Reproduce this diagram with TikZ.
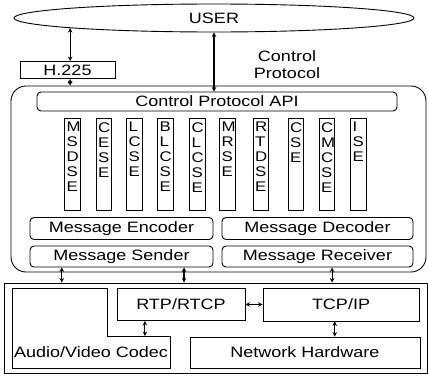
\documentclass[tikz,border=0pt]{standalone}
\usepackage{fontspec}
\setmainfont[FakeStretch=1.2]{Liberation Sans}
\usetikzlibrary{shapes.geometric,arrows.meta,calc}
\begin{document}
\begin{tikzpicture}[x=1pt,y=-1pt,
  every node/.style={font=\fontsize{15}{17}\selectfont},
  box/.style={draw, line width=0.9pt, inner sep=0pt},
  rbox/.style={box, rounded corners=4pt},
  colbox/.style={box, minimum width=15.5pt, minimum height=92pt},
  coltext/.style={anchor=north west, align=left, inner sep=0pt, font=\fontsize{14}{15}\selectfont},
  lnk/.style={line width=1.1pt, {Stealth[length=4.5pt,width=4.5pt]}-{Stealth[length=4.5pt,width=4.5pt]}},
]
\useasboundingbox (0,0) rectangle (428,375);

\node[box, ellipse, minimum width=400pt, minimum height=28pt] (user) at (214,18) {USER};
\node[box, minimum width=95pt, minimum height=17pt] (h225) at (67.5,70) {H.225};
\node[align=center, inner sep=0pt] (cptext) at (287,64.5) {Control\\Protocol};

\node[box, rounded corners=15pt, minimum width=415pt, minimum height=186pt] (big) at (218.5,179) {};
\node[rbox, minimum width=360pt, minimum height=19pt] (api) at (217,101.5) {Control Protocol API};

\foreach \cx/\txt [count=\i] in {72.5/{M\\S\\D\\S\\E}, 104/{C\\E\\S\\E}, 134.5/{L\\C\\S\\E},
  165.5/{B\\L\\C\\S\\E}, 197.5/{C\\L\\C\\S\\E}, 227.5/{M\\R\\S\\E}, 261/{R\\T\\D\\S\\E},
  296/{C\\S\\E}, 327/{C\\M\\C\\S\\E}, 358.5/{I\\S\\E}} {
  \node[colbox] (col\i) at (\cx,164.5) {};
  \node[coltext] (colt\i) at ($(col\i.north west)+(2,4)$) {\txt};
}

\node[rbox, minimum width=183pt, minimum height=22pt] (enc) at (121.5,228.5) {Message Encoder};
\node[rbox, minimum width=191pt, minimum height=22pt] (dec) at (317.5,228.5) {Message Decoder};
\node[rbox, minimum width=183pt, minimum height=21pt] (sender) at (121.5,256.5) {Message Sender};
\node[rbox, minimum width=191pt, minimum height=21pt] (receiver) at (317.5,256.5) {Message Receiver};

\node[box, minimum width=423pt, minimum height=90pt] (lower) at (215.5,328) {};
\draw[line width=0.9pt] (12,288) -- (107,288) -- (107,336) -- (170,336) -- (170,368) -- (12,368) -- cycle;
\coordinate (codecnotch) at (170,336);
\node (codec) at (91,352) {Audio/Video Codec};
\node[box, minimum width=128pt, minimum height=32pt] (rtp) at (181,304.5) {RTP/RTCP};
\node[box, minimum width=156pt, minimum height=33pt] (tcp) at (341,304.5) {TCP/IP};
\node[box, minimum width=230pt, minimum height=31pt] (nh) at (305,352.5) {Network Hardware};

\draw[lnk] (user.184) -- (user.184 |- h225.north);
\draw[lnk] (user.184 |- h225.south) -- (user.184 |- big.north);
\draw[lnk] (user.south) -- (user.south |- api.north);

\coordinate (s1) at ($(sender.south west)!0.175!(sender.south east)$);
\coordinate (s2) at ($(sender.south west)!0.84!(sender.south east)$);
\coordinate (r1) at ($(receiver.south west)!0.576!(receiver.south east)$);
\draw[lnk] (s1) -- (s1 |- lower.north);
\draw[lnk] (s2) -- (s2 |- lower.north);
\draw[lnk] (r1) -- (r1 |- lower.north);

\draw[lnk] (rtp.east) -- (tcp.west);
\coordinate (rc) at ($(rtp.south west)!0.22!(rtp.south east)$);
\draw[lnk] (rc) -- (rc |- codecnotch);
\coordinate (t1) at ($(tcp.south west)!0.46!(tcp.south east)$);
\draw[lnk] (t1) -- (t1 |- nh.north);
\end{tikzpicture}
\end{document}
